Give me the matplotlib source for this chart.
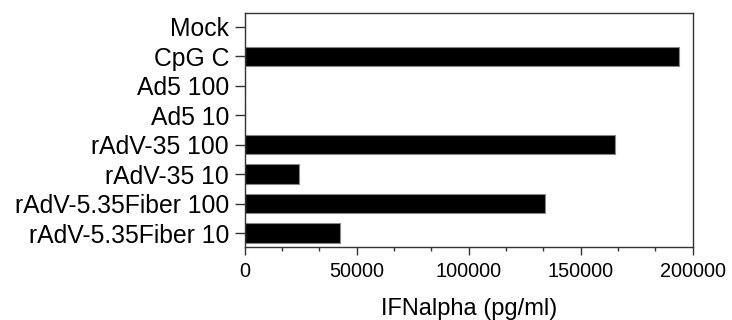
import matplotlib.pyplot as plt
from matplotlib.ticker import MultipleLocator

plt.rcParams['font.family'] = ['Liberation Sans', 'DejaVu Sans']

groups = ['Mock', 'CpG C', 'Ad5 100', 'Ad5 10', 'rAdV-35 100', 'rAdV-35 10',
          'rAdV-5.35Fiber 100', 'rAdV-5.35Fiber 10']
ifn = [0, 194000, 0, 0, 165500, 24200, 134000, 42700]

fig = plt.figure(figsize=(7.32, 3.2), dpi=100)
ax = fig.add_axes([0.3343, 0.2275, 0.612, 0.733])

pos = list(range(len(groups)))
ax.barh(pos, ifn, height=0.66, color='black', edgecolor='#888888', linewidth=0.8)

ax.set_yticks(pos)
ax.set_yticklabels(groups, fontsize=17.8)
ax.set_ylim(len(groups) - 0.52, -0.48)
ax.set_xlim(0, 200000)
ax.xaxis.set_major_locator(MultipleLocator(50000))
ax.xaxis.set_minor_locator(MultipleLocator(50000 / 3))
ax.tick_params(axis='x', labelsize=14.3, length=5.8, width=1, color='#333333', pad=5)
ax.tick_params(axis='x', which='minor', length=3.2, width=1, color='#333333')
ax.tick_params(axis='y', length=7, width=1, color='#333333', pad=4.3)
ax.set_xlabel('IFNalpha (pg/ml)', fontsize=17, labelpad=12)

for s in ax.spines.values():
    s.set_color('#333333')
    s.set_linewidth(1)

fig.savefig('out.png', dpi=100)
